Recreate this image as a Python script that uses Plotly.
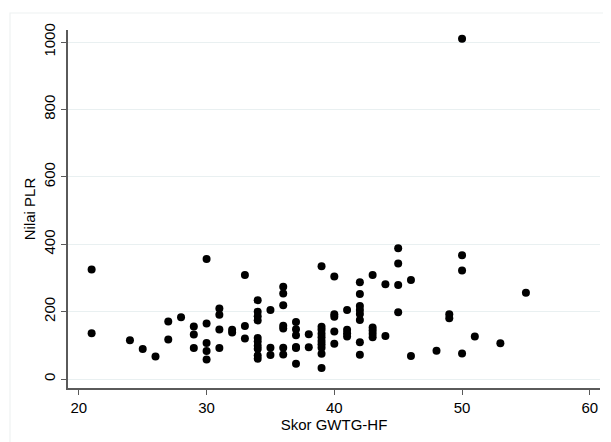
import plotly.graph_objects as go

# Skor GWTG-HF (x) and Nilai PLR (y)
skor = (
    [21, 21, 24, 25, 26, 27, 27, 28, 29, 29, 29]
    + [30] * 5 + [31] * 4 + [32] * 2 + [33] * 3 + [34] * 10
    + [35] * 3 + [36] * 7 + [37] * 6 + [38] * 2 + [39] * 10
    + [40] * 5 + [41] * 4 + [42] * 8 + [43] * 5 + [44] * 2
    + [45] * 4 + [46] * 2 + [48] + [49] * 2 + [50] * 4 + [51] + [53] + [55]
)
plr = (
    [325, 136, 115, 89, 67, 171, 117, 183, 156, 132, 92]
    + [356, 165, 107, 83, 58]
    + [209, 191, 147, 92]
    + [146, 138]
    + [309, 157, 120]
    + [234, 200, 186, 174, 122, 111, 99, 89, 70, 60]
    + [205, 93, 71]
    + [274, 254, 219, 158, 150, 93, 73]
    + [169, 148, 130, 95, 92, 45]
    + [133, 94]
    + [335, 155, 146, 134, 124, 113, 103, 93, 75, 33]
    + [304, 192, 185, 141, 105]
    + [205, 146, 136, 126]
    + [287, 252, 217, 205, 193, 175, 109, 72]
    + [309, 153, 144, 134, 124]
    + [281, 128]
    + [388, 343, 279, 198]
    + [294, 68]
    + [84]
    + [192, 180]
    + [1010, 367, 322, 76]
    + [126]
    + [106]
    + [256]
)

x_ticks = [20, 30, 40, 50, 60]
y_ticks = [0, 200, 400, 600, 800, 1000]

FONT = "Liberation Sans, Arial, Helvetica, sans-serif"
AXIS_COLOR = "#5a5a5a"
GRID_COLOR = "#e9f0f1"

fig = go.Figure(
    go.Scatter(
        x=skor,
        y=plr,
        mode="markers",
        marker=dict(color="black", size=8, line=dict(width=0)),
        hoverinfo="x+y",
    )
)

# page body has an 8px default margin, so the figure is 603x434
fig.update_layout(
    width=603,
    height=434,
    margin=dict(l=60, r=11, t=22, b=54),
    paper_bgcolor="white",
    plot_bgcolor="white",
    showlegend=False,
    font=dict(family=FONT, size=15, color="black"),
    shapes=[
        dict(
            type="rect", xref="paper", yref="paper",
            x0=(2 - 60) / 532, x1=(640 - 60) / 532,
            y0=-(460 - 380) / 358, y1=1 + (22 - 5) / 358,
            line=dict(color="#eef2f2", width=1.2),
            fillcolor="rgba(0,0,0,0)", layer="below",
        )
    ],
)

fig.update_xaxes(
    range=[19.15, 60.8],
    tickvals=x_ticks,
    ticktext=[str(v) for v in x_ticks],
    showgrid=False,
    zeroline=False,
    showline=True,
    linecolor=AXIS_COLOR,
    linewidth=1.6,
    ticks="outside",
    ticklen=5,
    tickwidth=1.2,
    tickcolor=AXIS_COLOR,
    tickfont=dict(size=15),
    title=dict(text="Skor GWTG-HF", font=dict(size=15), standoff=1),
)
fig.update_yaxes(
    range=[-26.7, 1036],
    tickvals=y_ticks,
    ticktext=[str(v) for v in y_ticks],
    tickangle=-90,
    showgrid=True,
    gridcolor=GRID_COLOR,
    gridwidth=1,
    zeroline=False,
    showline=True,
    linecolor=AXIS_COLOR,
    linewidth=1.6,
    ticks="outside",
    ticklen=5,
    tickwidth=1.2,
    tickcolor=AXIS_COLOR,
    tickfont=dict(size=15),
    title=dict(text="Nilai PLR", font=dict(size=15), standoff=2),
)

fig.write_html("out.html")
